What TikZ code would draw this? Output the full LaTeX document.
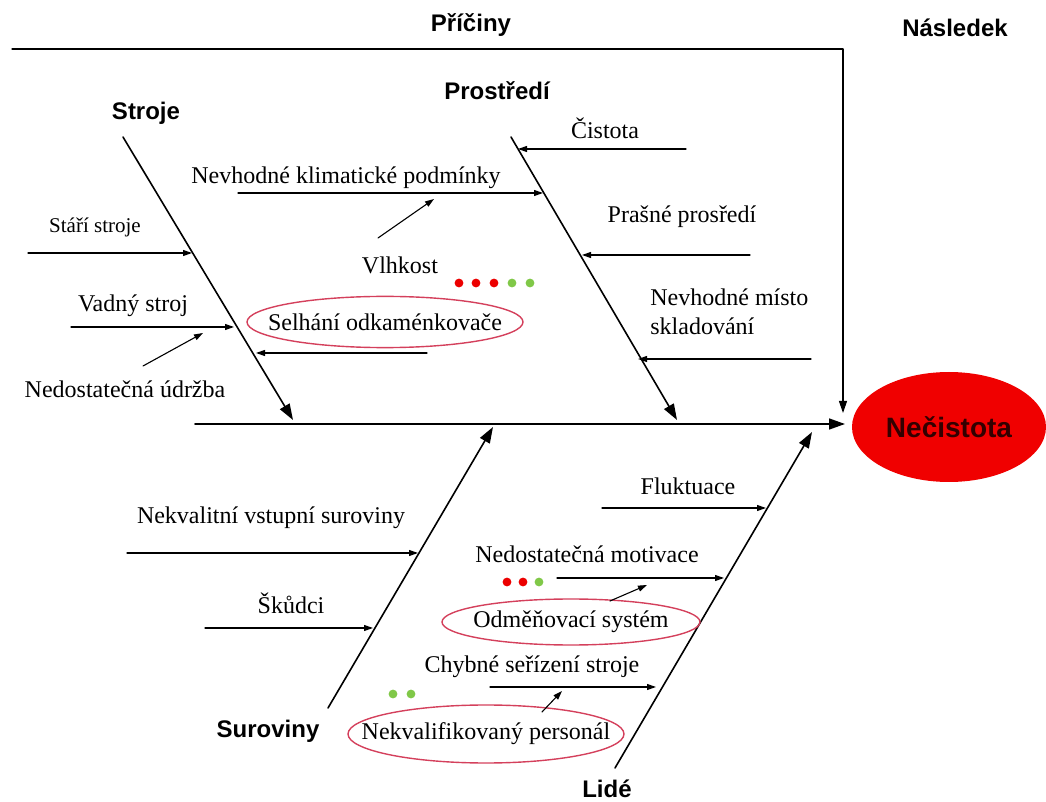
\documentclass[tikz,border=0pt]{standalone}
\usepackage{fontspec}
\setmainfont{Liberation Serif}
\newfontfamily\headfont{Liberation Sans}
\usetikzlibrary{arrows.meta,shapes.geometric}

\definecolor{ringred}{RGB}{212,64,92}
\definecolor{dotred}{RGB}{236,0,0}
\definecolor{dotgreen}{RGB}{128,200,72}
\definecolor{effectred}{RGB}{240,0,0}

\tikzset{
  bone/.style={line width=0.8pt, -{Triangle[length=8pt,width=5.5pt]}},
  twig/.style={line width=0.55pt, -{Triangle[length=4.5pt,width=3pt]}},
  cause/.style={inner sep=0pt, font=\fontsize{12}{14.5}\selectfont},
  group/.style={inner sep=0pt, font=\headfont\bfseries\fontsize{12}{14}\selectfont},
  ringline/.style={draw=ringred, line width=0.7pt},
  dot/.style={circle, inner sep=0pt, minimum size=4.4pt},
}

\begin{document}
\begin{tikzpicture}[x=0.5pt, y=-0.5pt, line cap=round, line join=round]

\useasboundingbox (0,0) rectangle (1046,802);

% ----------------------------
% PARAMETERS (pixel grid)
% ----------------------------
\def\spineY{424}

% ----------------------------
% HEADINGS
% ----------------------------
\node[group] (priciny)  at (471,25)  {Příčiny};
\node[group] (nasledek) at (955,28)  {Následek};
\node[group] (stroje)   at (146,113) {Stroje};
\node[group] (prostredi) at (497,91) {Prostředí};
\node[group] (suroviny) at (268,731) {Suroviny};
\node[group] (lide)     at (607,789) {Lidé};

% ----------------------------
% EFFECT AND MAIN SPINE
% ----------------------------
\node[ellipse, fill=effectred, minimum width=97pt, minimum height=55pt,
      inner sep=0pt, font=\headfont\bfseries\fontsize{14}{16}\selectfont,
      text=black!80!red] (effect) at (949,427) {Nečistota};

\coordinate (tail) at (195,\spineY);
\coordinate (head) at (845,\spineY);
\draw[bone] (tail) -- (head);

% frame over the causes
\coordinate (frameL) at (12,49);
\coordinate (frameR) at (843,49);
\coordinate (frameE) at (843,413);
\draw[line width=0.6pt, -{Triangle[length=6pt,width=4pt]}]
  (frameL) -- (frameR) -- (frameE);

% ----------------------------
% BONES
% ----------------------------
\coordinate (strojeA) at (123,137);
\coordinate (strojeB) at (293,420);
\coordinate (prostrA) at (511,137);
\coordinate (prostrB) at (677,420);
\coordinate (surovA)  at (328,708);
\coordinate (surovB)  at (493,427);
\coordinate (lideA)   at (615,768);
\coordinate (lideB)   at (812,432);

\draw[bone] (strojeA) -- (strojeB);
\draw[bone] (prostrA) -- (prostrB);
\draw[bone] (surovA) -- (surovB);
\draw[bone] (lideA) -- (lideB);

% ----------------------------
% STROJE
% ----------------------------
\node[cause, font=\fontsize{10.5}{12}\selectfont] (stari) at (95,227) {Stáří stroje};
\node[cause] (vadny)  at (133,306) {Vadný stroj};
\node[cause] (udrzba) at (125,389) {Nedostatečná údržba};
\node[cause] (selhani) at (385,322) {Selhání odkaménkovače};
\draw[ringline] (selhani) ellipse [x radius=69pt, y radius=12.8pt];

\draw[twig] (28,253) coordinate (stariT) -- (192,253) coordinate (stariH);
\draw[twig] (71,327) coordinate (vadnyT) -- (234,327) coordinate (vadnyH);
\draw[twig] (143,366) coordinate (udrzbaT) -- (203,333) coordinate (udrzbaH);
\draw[twig] (427,353) coordinate (selhaniT) -- (256,353) coordinate (selhaniH);

% ----------------------------
% PROSTREDI
% ----------------------------
\node[cause] (klima)   at (346,178) {Nevhodné klimatické podmínky};
\node[cause] (vlhkost) at (400,265) {Vlhkost};
\node[cause] (cistota) at (605,128) {Čistota};
\node[cause] (prasne)  at (682,217) {Prašné prosředí};
\node[cause, anchor=west, align=left] (misto) at (650,312)
  {Nevhodné místo\\skladování};

\draw[twig] (238,193) coordinate (klimaT) -- (543,193) coordinate (klimaH);
\draw[twig] (378,238) coordinate (vlhkostT) -- (434,199) coordinate (vlhkostH);
\draw[twig] (686,149) coordinate (cistotaT) -- (518,149) coordinate (cistotaH);
\draw[twig] (750,255) coordinate (prasneT) -- (582,255) coordinate (prasneH);
\draw[twig] (811,359) coordinate (mistoT) -- (638,359) coordinate (mistoH);

% rating dots
\foreach \px/\col in {459/dotred,476/dotred,494/dotred,512/dotgreen,530/dotgreen}
  \node[dot, fill=\col] at (\px,283) {};

% ----------------------------
% SUROVINY
% ----------------------------
\node[cause] (nekval) at (271,518) {Nekvalitní vstupní suroviny};
\node[cause] (skudci) at (291,603) {Škůdci};

\draw[twig] (127,553) coordinate (nekvalT) -- (418,553) coordinate (nekvalH);
\draw[twig] (205,628) coordinate (skudciT) -- (373,628) coordinate (skudciH);

% ----------------------------
% LIDE
% ----------------------------
\node[cause] (fluktuace) at (688,486) {Fluktuace};
\node[cause] (motivace)  at (587,554) {Nedostatečná motivace};
\node[cause] (odmena)    at (571,622) {Odměňovací systém};
\draw[ringline] (odmena) ellipse [x radius=64.5pt, y radius=11.5pt];
\node[cause] (serizeni)  at (532,667) {Chybné seřízení stroje};
\node[cause] (personal)  at (486,734) {Nekvalifikovaný personál};
\draw[ringline] (personal) ellipse [x radius=69pt, y radius=14.5pt];

\draw[twig] (602,508) coordinate (fluktT) -- (766,508) coordinate (fluktH);
\draw[twig] (557,578) coordinate (motivT) -- (724,578) coordinate (motivH);
\draw[twig] (610,601) coordinate (odmenaT) -- (647,585) coordinate (odmenaH);
\draw[twig] (490,687) coordinate (serizT) -- (656,687) coordinate (serizH);
\draw[twig] (542,712) coordinate (personT) -- (562,691) coordinate (personH);

\foreach \px/\col in {507/dotred,523/dotred,539/dotgreen}
  \node[dot, fill=\col] at (\px,582) {};
\foreach \px in {393,411}
  \node[dot, fill=dotgreen] at (\px,694) {};

\end{tikzpicture}
\end{document}
